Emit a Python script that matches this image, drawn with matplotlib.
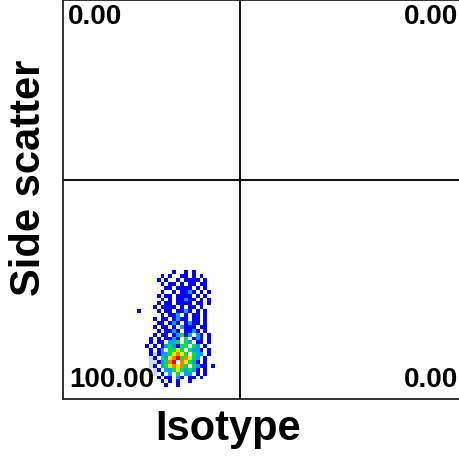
import numpy as np
import matplotlib
matplotlib.use("Agg")
import matplotlib.pyplot as plt
from matplotlib.colors import ListedColormap, BoundaryNorm

# ---- data -------------------------------------------------------------
x_label = "Isotype"
y_label = "Side scatter"
quadrant_pcts = ["0.00", "0.00", "100.00", "0.00"]   # UL, UR, LL, LR
gate_x = 454     # channel
gate_y = 562     # channel
axis_max = 1023

# density histogram (channel bins of 10), rows listed top -> bottom
bin_x0 = 180
bin_y_top = 330
bin_w = 10
density_rows = [
    "..........1..1.1......",
    ".......1.1..11.1.1....",
    "......1.1..1.1111.1...",
    ".......1.11.1.11.11...",
    "........11.1111.1.1...",
    ".......1..1.1121.1.1..",
    "......1.11.1111.1.1...",
    ".......1.1.11211.1.1..",
    "......1.11.1111.11.1..",
    ".....1.1111.1.11.1....",
    ".1....1.11.1121.1.1...",
    ".......1.112.1.11.1...",
    ".....1.11.1211.11.1...",
    "......11.121.1211.1...",
    ".....1.11.1.2111.11...",
    "......1.1121.1121.1...",
    ".....1.11.12312.21.1..",
    "....1.1.1121.3.121.1..",
    "....1.11.223.32.11.1..",
    "...1.1.1232133.32.1...",
    "....1.12.3343.3221.1..",
    "....1f12234543.322.1..",
    "....f1.3245635432.1...",
    "....ff12356.54321.1...",
    "....f1.2345453.3211.1.",
    ".....f1.223432321.1...",
    ".....f.1.2.3.22.1.1...",
    "......1.11.21.11.1....",
    ".......1.1.1..1.......",
    "........1..1..........",
]
level_map = {".": np.nan, "f": 0, "1": 1, "2": 2, "3": 3, "4": 4, "5": 5, "6": 6}
level_colors = ["#c8d8ff", "#0000ff", "#00a0ff", "#00e040", "#e8f000", "#ff8000", "#ff0000"]

# ---- build grid --------------------------------------------------------
ncols = 22
rows = [r.ljust(ncols, ".")[:ncols] for r in density_rows]
nrows = len(rows)
Z = np.array([[level_map[ch] for ch in row] for row in rows])[::-1]
xe = bin_x0 + bin_w * np.arange(ncols + 1)
ye = (bin_y_top - bin_w * nrows) + bin_w * np.arange(nrows + 1)
Zm = np.ma.masked_invalid(Z)

cmap = ListedColormap(level_colors)
norm = BoundaryNorm(np.arange(-0.5, len(level_colors) + 0.5, 1), cmap.N)

# ---- figure -------------------------------------------------------------
W = H = 460
fig = plt.figure(figsize=(W / 100, H / 100), dpi=100)
ax = fig.add_axes([63 / W, 60 / H, 399 / W, 399 / H])
ax.set_xlim(0, axis_max)
ax.set_ylim(0, axis_max)
ax.pcolormesh(xe, ye, Zm, cmap=cmap, norm=norm, shading="flat")

ax.axvline(gate_x, color="#111111", lw=1.4)
ax.axhline(gate_y, color="#111111", lw=1.4)

ax.set_xticks([])
ax.set_yticks([])
for s in ax.spines.values():
    s.set_linewidth(1.3)
    s.set_color("#222222")

font = "Liberation Sans"
qfs = 20
ax.text(0.012, 0.992, quadrant_pcts[0], transform=ax.transAxes, ha="left", va="top",
        fontsize=qfs, fontweight="bold", family=font)
ax.text(0.99, 0.992, quadrant_pcts[1], transform=ax.transAxes, ha="right", va="top",
        fontsize=qfs, fontweight="bold", family=font)
ax.text(0.015, 0.018, quadrant_pcts[2], transform=ax.transAxes, ha="left", va="bottom",
        fontsize=qfs, fontweight="bold", family=font)
ax.text(0.99, 0.018, quadrant_pcts[3], transform=ax.transAxes, ha="right", va="bottom",
        fontsize=qfs, fontweight="bold", family=font)

fig.text(228 / W, 1 - 429 / H, x_label, ha="center", va="center",
         fontsize=30, fontweight="bold", family=font)
fig.text(29 / W, 1 - 178 / H, y_label, ha="center", va="center", rotation=90,
         fontsize=30, fontweight="bold", family=font)

fig.savefig("out.png", dpi=100)
